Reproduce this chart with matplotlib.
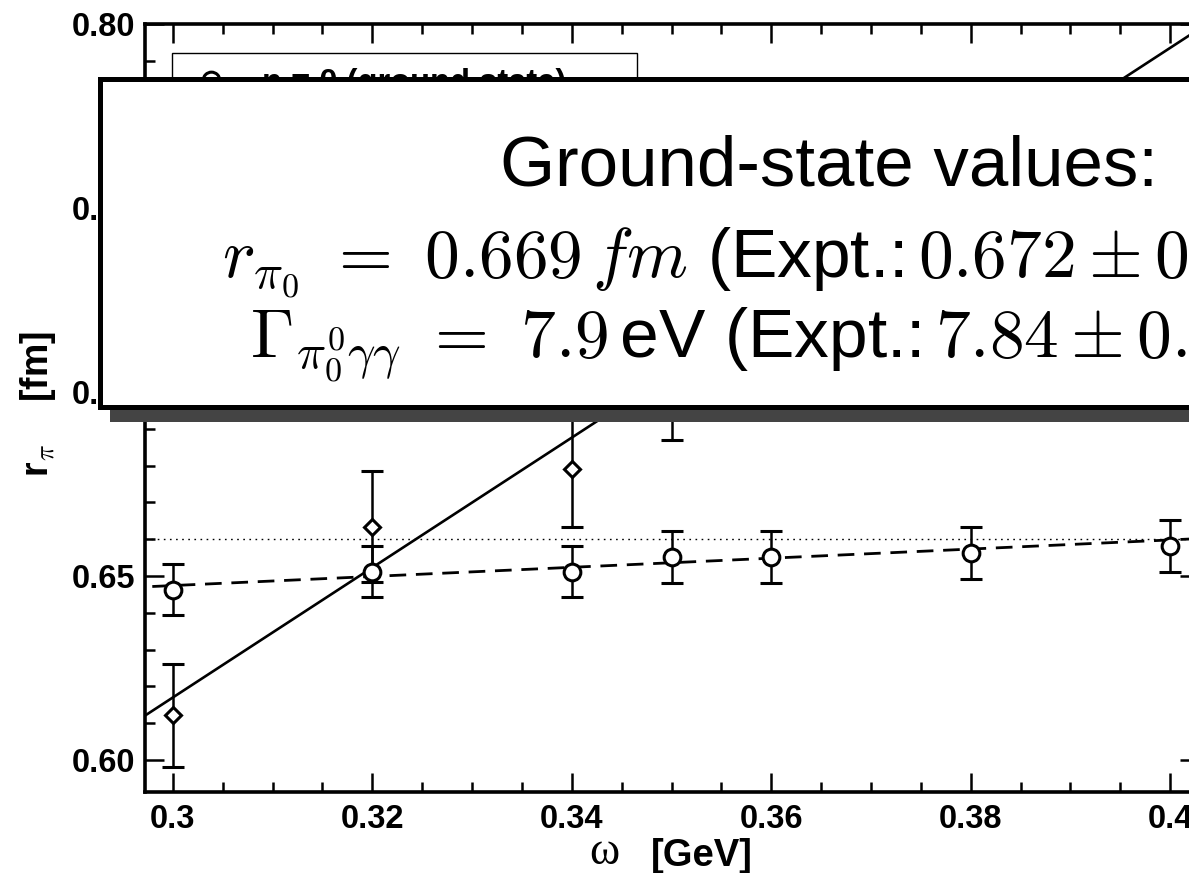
import numpy as np
import matplotlib.pyplot as plt
from matplotlib.patches import Rectangle
from matplotlib.lines import Line2D
from matplotlib.ticker import MultipleLocator, FormatStrFormatter, FuncFormatter

plt.rcParams['font.family'] = ['Liberation Sans', 'DejaVu Sans']
plt.rcParams['font.weight'] = 'bold'
plt.rcParams['mathtext.fontset'] = 'cm'

# pion charge radius vs. omega, n = 0 (ground state)
omega_n0 = [0.30, 0.32, 0.34, 0.35, 0.36, 0.38, 0.40]
r_n0 = [0.6463, 0.6512, 0.6512, 0.6552, 0.6552, 0.6563, 0.6582]
err_n0 = [0.007, 0.007, 0.007, 0.007, 0.007, 0.007, 0.007]

# n = 1
omega_n1 = [0.30, 0.32, 0.34, 0.35]
r_n1 = [0.6122, 0.6634, 0.6792, 0.705]
err_n1 = [0.014, 0.015, 0.016, 0.018]

# linear fits: (r at omega = 0.30, slope)
fit_n0 = (0.6474, 0.124)
fit_n1 = (0.6170, 1.765)
r_ref = 0.660

W, H = 1189, 873


def fx(px):
    return px / W


def fy(py):
    return 1 - py / H


fig = plt.figure(figsize=(W / 100, H / 100), dpi=100)
ax = fig.add_axes([fx(145), fy(792), (1199 - 145) / W, (792 - 24) / H])

xs = np.array([0.29, 0.41])
ax.plot(xs, fit_n0[0] + fit_n0[1] * (xs - 0.30), color='k', lw=2.0, ls='--', dashes=(6, 3.5))
ax.plot(xs, fit_n1[0] + fit_n1[1] * (xs - 0.30), color='k', lw=1.9)
ax.axhline(r_ref, color='k', lw=1.0, dashes=(1.2, 3.2))

ax.errorbar(omega_n0, r_n0, yerr=err_n0, fmt='o', ms=12, mfc='white', mec='k', mew=2.2,
            ecolor='k', elinewidth=1.8, capsize=8, capthick=1.8, zorder=4)
ax.errorbar(omega_n1, r_n1, yerr=err_n1, fmt='D', ms=8.5, mfc='white', mec='k', mew=2.2,
            ecolor='k', elinewidth=1.8, capsize=8, capthick=1.8, zorder=4)

ax.set_xlim(0.2972, 0.4029)
ax.set_ylim(0.5913, 0.80)
ax.xaxis.set_major_locator(MultipleLocator(0.02))
ax.xaxis.set_minor_locator(MultipleLocator(0.005))
ax.yaxis.set_major_locator(MultipleLocator(0.05))
ax.yaxis.set_minor_locator(MultipleLocator(0.01))
ax.xaxis.set_major_formatter(FuncFormatter(lambda v, p: '%g' % round(v, 3)))
ax.yaxis.set_major_formatter(FormatStrFormatter('%.2f'))
ax.tick_params(which='both', direction='in', top=True, right=True, width=1.8)
ax.tick_params(which='major', length=14, labelsize=23.5)
ax.tick_params(which='minor', length=7)
ax.tick_params(axis='y', pad=7)
ax.tick_params(axis='x', pad=9)
for s in ax.spines.values():
    s.set_linewidth(2.6)

handles = [Line2D([], [], ls='none', marker='o', ms=12, mfc='white', mec='k', mew=2.2),
           Line2D([], [], ls='none', marker='D', ms=8.5, mfc='white', mec='k', mew=2.2)]
leg = ax.legend(handles, ['n = 0 (ground state)', 'n = 1 (1st excited state)'],
                loc='upper left', bbox_to_anchor=((172 - 145) / 1054, (792 - 53) / 768),
                borderaxespad=0, fontsize=23.5, handlelength=1.5, handletextpad=0.8,
                borderpad=0.45, fancybox=False, edgecolor='k', framealpha=1)
leg.get_frame().set_linewidth(1.0)

# axis labels
fig.text(fx(38), fy(404), r'r$_{\pi}$    [fm]', rotation=90, ha='center', va='center',
         fontsize=27)
fig.text(fx(604), fy(864), '\u03c9', family=['Liberation Serif', 'DejaVu Serif'],
         weight='normal', fontsize=33, ha='center', va='baseline')
fig.text(fx(702), fy(866), '[GeV]', fontsize=27.5, ha='center', va='baseline')

# summary box with drop shadow
fig.add_artist(Rectangle((fx(110), fy(422)), fx(1400), (422 - 91) / H, facecolor='#444444',
                         edgecolor='none', transform=fig.transFigure, zorder=10))
fig.add_artist(Rectangle((fx(100), fy(407)), fx(1400), (407 - 79) / H, facecolor='white',
                         edgecolor='k', lw=3.6, transform=fig.transFigure, zorder=11))
fig.text(fx(1158), fy(185), 'Ground-state values:', ha='right', va='baseline',
         fontsize=51, weight='normal', zorder=12)
fig.text(fx(222), fy(277),
         r'$r_{\pi_0}\ =\ 0.669\,fm$ (Expt.:$\,0.672 \pm 0.008\,fm$)',
         ha='left', va='baseline', fontsize=50, weight='normal', zorder=12)
fig.text(fx(250), fy(357),
         r'$\Gamma_{\pi^0_0\gamma\gamma}\ =\ 7.9\,$eV (Expt.:$\,7.84 \pm 0.56\,$eV)',
         ha='left', va='baseline', fontsize=50, weight='normal', zorder=12)

fig.savefig('out.png', dpi=100)
